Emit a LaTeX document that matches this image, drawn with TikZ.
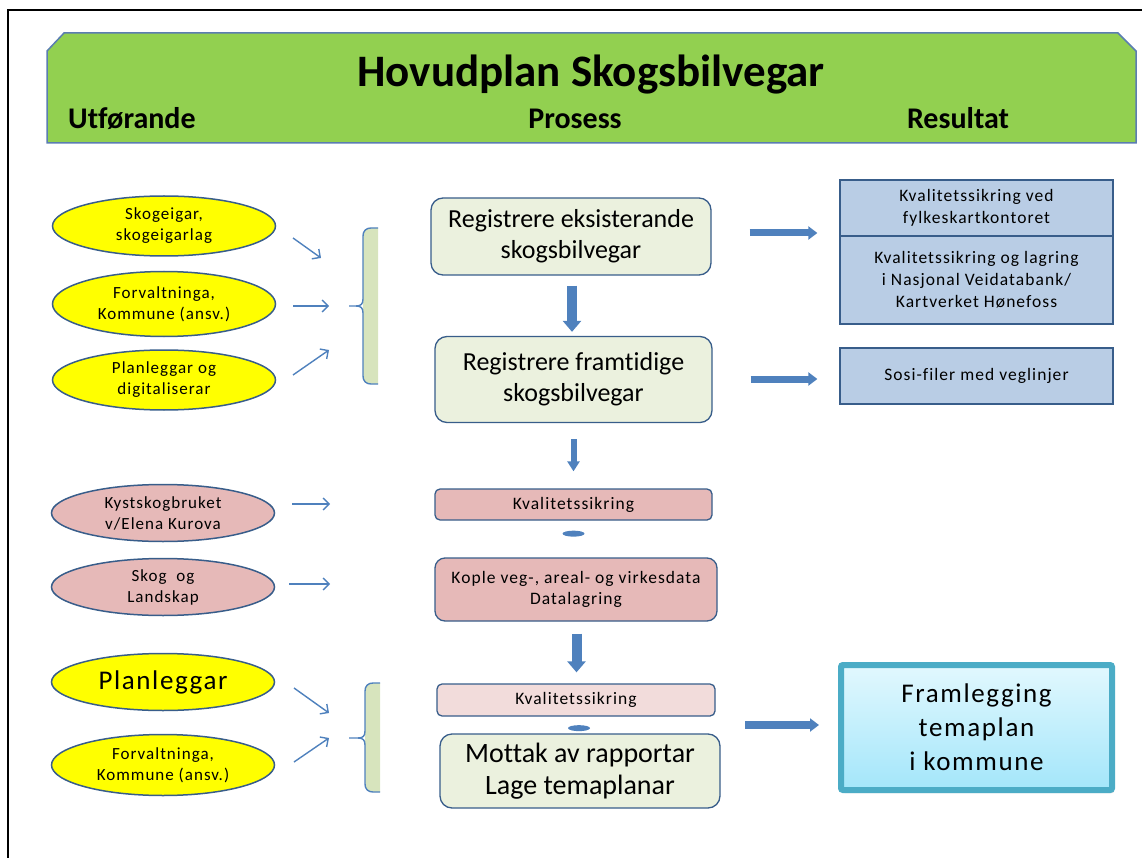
\documentclass[tikz,border=0pt]{standalone}
\usepackage{fontspec}
\setmainfont{Carlito}[Ligatures={NoCommon}]
\newfontfamily\spaced[LetterSpace=6,Ligatures={NoCommon}]{Carlito}
\usetikzlibrary{shapes.geometric,arrows.meta,shadows}
\definecolor{bannerG}{HTML}{92D050}
\definecolor{bannerB}{HTML}{5B7DB1}
\definecolor{ellB}{HTML}{385D8A}
\definecolor{yel}{HTML}{FFFF00}
\definecolor{pinkF}{HTML}{E6B9B8}
\definecolor{lpinkF}{HTML}{F2DCDB}
\definecolor{procG}{HTML}{EBF1DE}
\definecolor{resB}{HTML}{B9CDE5}
\definecolor{arrB}{HTML}{4F81BD}
\definecolor{brG}{HTML}{D7E4BD}
\definecolor{finB}{HTML}{4BACC6}
\definecolor{finTop}{HTML}{E2F8FE}
\definecolor{finBot}{HTML}{A3E6FA}
\begin{document}
\begin{tikzpicture}[x=1pt,y=-1pt,
  ellbase/.style={ellipse, draw=ellB, line width=1.5pt, minimum width=223pt, minimum height=60pt, inner sep=0pt, align=center, font=\spaced\fontsize{17}{21}\selectfont},
  yellowell/.style={ellbase, fill=yel},
  pinkell/.style={ellbase, fill=pinkF},
  procbox/.style={rectangle, rounded corners=12pt, draw=ellB, line width=1.3pt, fill=procG, align=center, inner sep=0pt, font=\fontsize{26}{31}\selectfont},
  smallbox/.style={rectangle, rounded corners=5pt, draw=ellB, line width=1.3pt, fill=pinkF, align=center, inner sep=0pt, font=\spaced\fontsize{17.5}{21}\selectfont},
  resbox/.style={rectangle, draw=ellB, line width=1.3pt, fill=resB, align=center, inner sep=0pt, font=\spaced\fontsize{17.5}{22}\selectfont},
  finbox/.style={rectangle, rounded corners=2pt, draw=finB, line width=6pt, top color=finTop, bottom color=finBot, align=center, inner sep=0pt, font=\spaced\fontsize{27}{34}\selectfont, drop shadow={shadow xshift=2pt, shadow yshift=-3pt, opacity=0.3}},
  thinarrow/.style={draw=arrB, line width=1.4pt, -{Straight Barb[length=6pt,width=12pt]}},
  vblock/.style={draw=arrB, line width=10pt, -{Triangle[length=11pt,width=18pt]}},
  vsmall/.style={draw=arrB, line width=6pt, -{Triangle[length=10pt,width=12pt]}},
  hblock/.style={draw=arrB, line width=7pt, -{Triangle[length=9pt,width=13pt]}},
  blob/.style={fill=arrB},
  bracefill/.style={fill=brG},
  braceline/.style={draw=arrB, line width=1.4pt},
]
\useasboundingbox (0,0) rectangle (1142,858);
% frame
\draw[line width=2pt] (8,858) -- (8,10) -- (1142,10);
% banner
\filldraw[fill=bannerG, draw=bannerB, line width=1.5pt] (47,51) -- (64,33) -- (1118,33) -- (1136,51) -- (1136,143) -- (47,143) -- cycle;
\node[anchor=base, font=\bfseries\fontsize{45}{50}\selectfont] (title) at (591,87) {Hovudplan Skogsbilvegar};
\node[anchor=base west, inner sep=0pt, font=\bfseries\fontsize{30}{34}\selectfont] (h1) at (68,129) {Utførande};
\node[anchor=base, inner sep=0pt, font=\bfseries\fontsize{30}{34}\selectfont] (h2) at (575,129) {Prosess};
\node[anchor=base, inner sep=0pt, font=\bfseries\fontsize{30}{34}\selectfont] (h3) at (958,129) {Resultat};

% left ellipses
\node[yellowell] (e1) at (164,226) {Skogeigar,\\skogeigarlag};
\node[yellowell, minimum height=65pt] (e2) at (164,304) {Forvaltninga,\\Kommune (ansv.)};
\node[yellowell] (e3) at (164,380) {Planleggar og\\digitaliserar};
\node[pinkell, minimum height=57pt] (k1) at (163,513) {Kystskogbruket\\v/Elena Kurova};
\node[pinkell, minimum height=57pt] (k2) at (163,587) {Skog~~og\\Landskap};
\node[yellowell, minimum height=57pt, font=\spaced\fontsize{27}{30}\selectfont] (p1) at (163,682) {Planleggar};
\node[yellowell, minimum height=61pt] (f2) at (163,765) {Forvaltninga,\\Kommune (ansv.)};

% braces
\coordinate (br1) at (349,306);
\coordinate (br2) at (349,738);
\fill[bracefill] (378,228) -- (371,228) .. controls (366,228) and (363,231) .. (363,236) -- (363,376) .. controls (363,381) and (366,384) .. (371,384) -- (378,384) -- cycle;
\draw[braceline] (378,228) -- (371,228) .. controls (366,228) and (363,231) .. (363,236) -- (363,299) .. controls (363,304) and (361,306) .. (356,306) -- (br1);
\draw[braceline] (356,306) .. controls (361,306) and (363,308) .. (363,313) -- (363,376) .. controls (363,381) and (366,384) .. (371,384) -- (378,384);
\fill[bracefill] (380,683) -- (373,683) .. controls (368,683) and (365,686) .. (365,691) -- (365,784) .. controls (365,789) and (368,792) .. (373,792) -- (380,792) -- cycle;
\draw[braceline] (380,683) -- (373,683) .. controls (368,683) and (365,686) .. (365,691) -- (365,731) .. controls (365,736) and (363,738) .. (358,738) -- (br2);
\draw[braceline] (358,738) .. controls (363,738) and (365,740) .. (365,745) -- (365,784) .. controls (365,789) and (368,792) .. (373,792) -- (380,792);

% thin arrows
\coordinate (t1s) at (293,238); \coordinate (t1e) at (321,258);
\coordinate (t2s) at (293,306); \coordinate (t2e) at (329,306);
\coordinate (t3s) at (293,375); \coordinate (t3e) at (329,350);
\coordinate (t4s) at (292,504); \coordinate (t4e) at (330,504);
\coordinate (t5s) at (289,584); \coordinate (t5e) at (330,584);
\coordinate (t6s) at (294,688); \coordinate (t6e) at (329,713);
\coordinate (t7s) at (294,762); \coordinate (t7e) at (329,738);
\draw[thinarrow] (t1s) -- (t1e);
\draw[thinarrow] (t2s) -- (t2e);
\draw[thinarrow] (t3s) -- (t3e);
\draw[thinarrow] (t4s) -- (t4e);
\draw[thinarrow] (t5s) -- (t5e);
\draw[thinarrow] (t6s) -- (t6e);
\draw[thinarrow] (t7s) -- (t7e);

% process boxes
\node[procbox, minimum width=280pt, minimum height=77pt] (A) at (571,236.5) {Registrere eksisterande\\skogsbilvegar};
\node[procbox, minimum width=277pt, minimum height=86pt] (B) at (573.5,379.5) {Registrere framtidige\\skogsbilvegar};
\node[smallbox, minimum width=277pt, minimum height=31pt] (C) at (573.5,504.5) {Kvalitetssikring};
\node[smallbox, rounded corners=10pt, minimum width=282pt, minimum height=63pt] (D) at (576,589.5) {Kople veg-, areal- og virkesdata\\Datalagring};
\node[smallbox, fill=lpinkF, minimum width=278pt, minimum height=32pt] (E) at (576,700) {Kvalitetssikring};
\node[procbox, minimum width=280pt, minimum height=74pt, font=\fontsize{28}{32}\selectfont] (F) at (580,771) {Mottak av rapportar\\Lage temaplanar};

% vertical block arrows
\draw[vblock, shorten <=10pt, shorten >=4pt] ([xshift=1pt]A.south) -- ([xshift=1pt]A.south |- B.north);
\draw[vsmall, shorten <=16pt, shorten >=17pt] (B.south) -- (B.south |- C.north);
\fill[blob] ([yshift=-13pt]C.south) ellipse (11pt and 3pt);
\draw[vblock, shorten <=12pt, shorten >=11pt] ([xshift=0.5pt]D.south) -- ([xshift=0.5pt]D.south |- E.north);
\fill[blob] ([xshift=3pt,yshift=-11.5pt]E.south) ellipse (11pt and 3pt);

% result boxes
\node[resbox, minimum width=273pt, minimum height=56pt] (R1) at (976.5,208) {Kvalitetssikring ved\\fylkeskartkontoret};
\node[resbox, minimum width=273pt, minimum height=88pt] (R2) at (976.5,280) {Kvalitetssikring og lagring\\i Nasjonal Veidatabank/\\Kartverket Hønefoss};
\node[resbox, minimum width=273pt, minimum height=56pt] (R3) at (976.5,376) {Sosi-filer med veglinjer};
\node[finbox, minimum width=271pt, minimum height=125pt] (fin) at (976.5,727.5) {Framlegging\\temaplan\\i kommune};

% horizontal block arrows
\draw[hblock] ([xshift=38pt,yshift=3.5pt]A.east) -- ([xshift=-22pt,yshift=-25pt]R1.west);
\draw[hblock] ([xshift=38pt,yshift=0.5pt]B.east) -- ([xshift=-22pt,yshift=-3pt]R3.west);
\draw[hblock, line width=8pt] ([xshift=-93pt,yshift=2.5pt]fin.west) -- ([xshift=-19pt,yshift=2.5pt]fin.west);
\end{tikzpicture}
\end{document}
